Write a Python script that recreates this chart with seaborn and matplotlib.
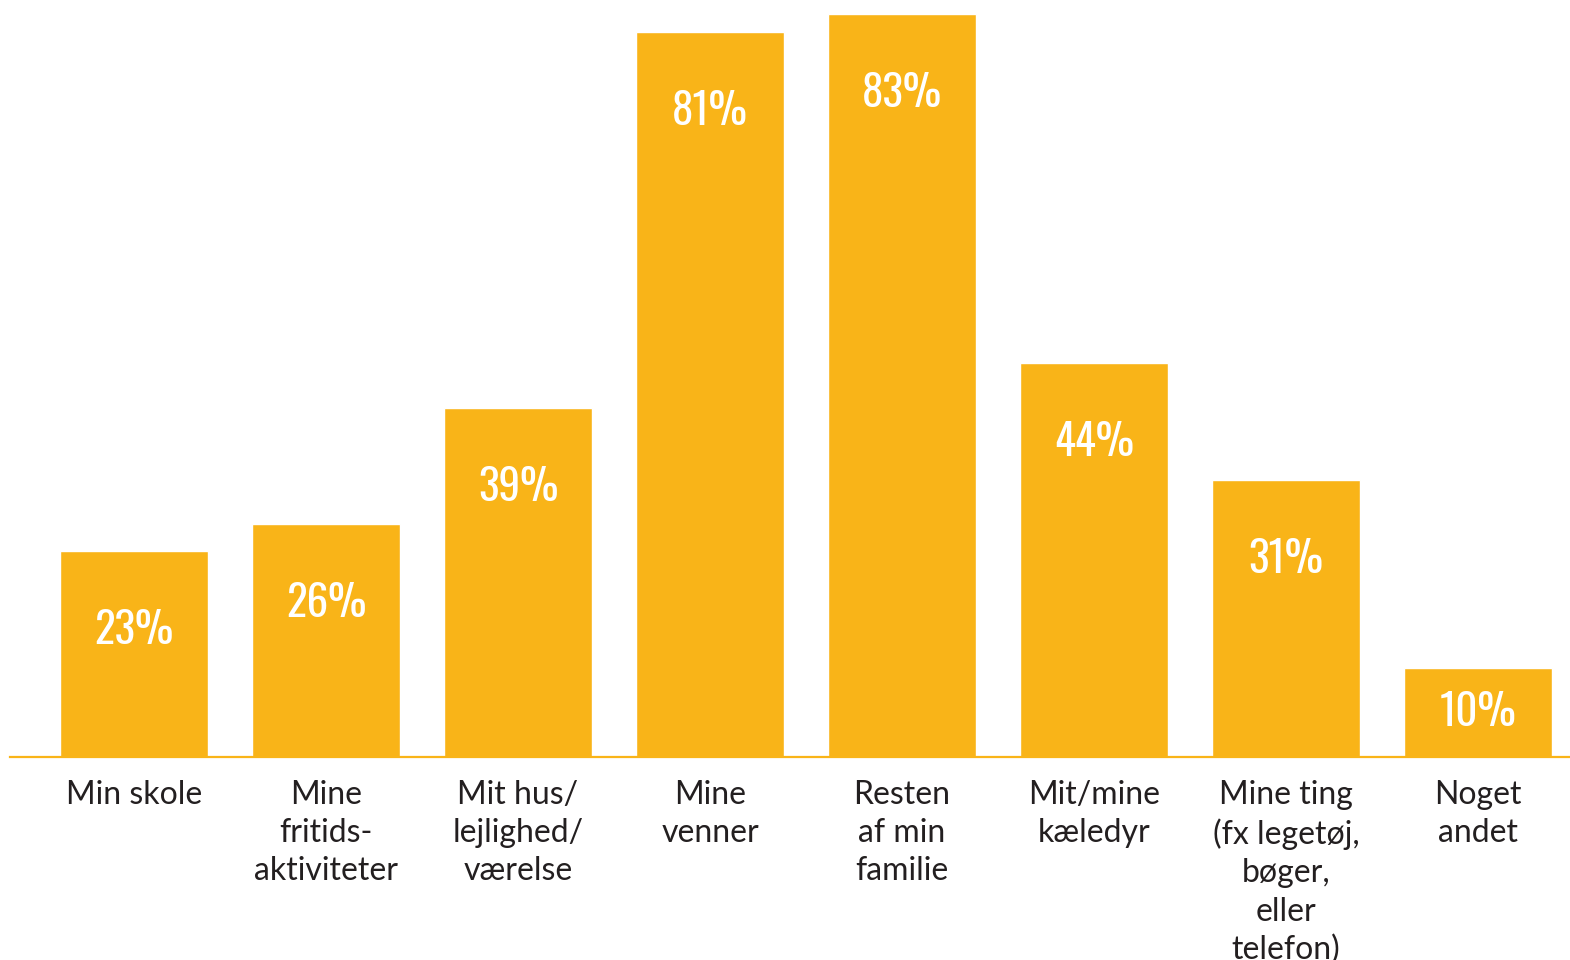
import matplotlib
matplotlib.use("Agg")
import matplotlib.pyplot as plt
from matplotlib import font_manager as fm
import seaborn as sns
import pandas as pd

categories = ["Min skole", "Mine\nfritids-\naktiviteter", "Mit hus/\nlejlighed/\nværelse",
              "Mine\nvenner", "Resten\naf min\nfamilie", "Mit/mine\nkæledyr",
              "Mine ting\n(fx legetøj,\nbøger,\neller\ntelefon)", "Noget\nandet"]
values = [23, 26, 39, 81, 83, 44, 31, 10]
value_labels = ["23%", "26%", "39%", "81%", "83%", "44%", "31%", "10%"]

BAR = "#F9B418"
TEXT = "#231F20"

sns.set_theme(style="white")
names = {f.name for f in fm.fontManager.ttflist}
cond = None
for cand in ["Oswald", "Roboto Condensed", "Liberation Sans Narrow", "Open Sans Condensed", "DejaVu Sans"]:
    if cand in names:
        cond = cand
        break
plt.rcParams['font.family'] = ['Lato', 'DejaVu Sans']

fig = plt.figure(figsize=(15.7, 9.6), dpi=100)
ax = fig.add_axes([10/1570, (960-757)/960, 1560/1570, 757/960])

df = pd.DataFrame({"cat": categories, "val": values})
sns.barplot(data=df, x="cat", y="val", color=BAR, saturation=1, width=0.766, ax=ax)

ax.set_ylim(0, 757/8.95)
ax.set_xlim(-0.646, 7.479)
ax.set_xlabel("")
ax.set_ylabel("")
ax.set_yticks([])
for s in ["top", "left", "right"]:
    ax.spines[s].set_visible(False)
ax.spines["bottom"].set_color(BAR)
ax.spines["bottom"].set_linewidth(1.6)
ax.tick_params(axis="x", length=0, pad=16.5, labelsize=23, labelcolor=TEXT)
for lab in ax.get_xticklabels():
    lab.set_linespacing(1.34)
    lab.set_multialignment("center")
    lab.set_family(['Lato', 'DejaVu Sans'])

kw = {}
if cond == "DejaVu Sans":
    kw = dict(fontstretch="condensed")
for i, (v, t) in enumerate(zip(values, value_labels)):
    y = max(v - 8.9, v / 2)
    ax.text(i, y, t, ha="center", va="center", color="white", fontsize=31,
            fontweight="bold", family=[cond, 'DejaVu Sans'], **kw)

fig.savefig("out.png", dpi=100)
